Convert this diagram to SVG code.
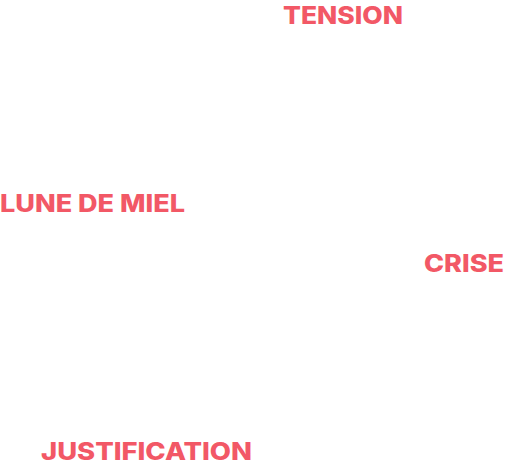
<svg xmlns="http://www.w3.org/2000/svg" width="508" height="470" viewBox="0 0 508 470">
<style>
.lbl{font-family:Inter,"Noto Sans",sans-serif;font-weight:800;font-size:24px;fill:#F25866;}
</style>
<rect width="508" height="470" fill="#ffffff"/>
<g id="tension"><text class="lbl" x="283" y="24" textLength="120" lengthAdjust="spacingAndGlyphs">TENSION</text></g>
<g id="lune-de-miel"><text class="lbl" x="0" y="212" textLength="185" lengthAdjust="spacingAndGlyphs">LUNE DE MIEL</text></g>
<g id="crise"><text class="lbl" x="424" y="272" textLength="80" lengthAdjust="spacingAndGlyphs">CRISE</text></g>
<g id="justification"><text class="lbl" x="41" y="460" textLength="211" lengthAdjust="spacingAndGlyphs">JUSTIFICATION</text></g>
<g id="connectors"></g>
</svg>
